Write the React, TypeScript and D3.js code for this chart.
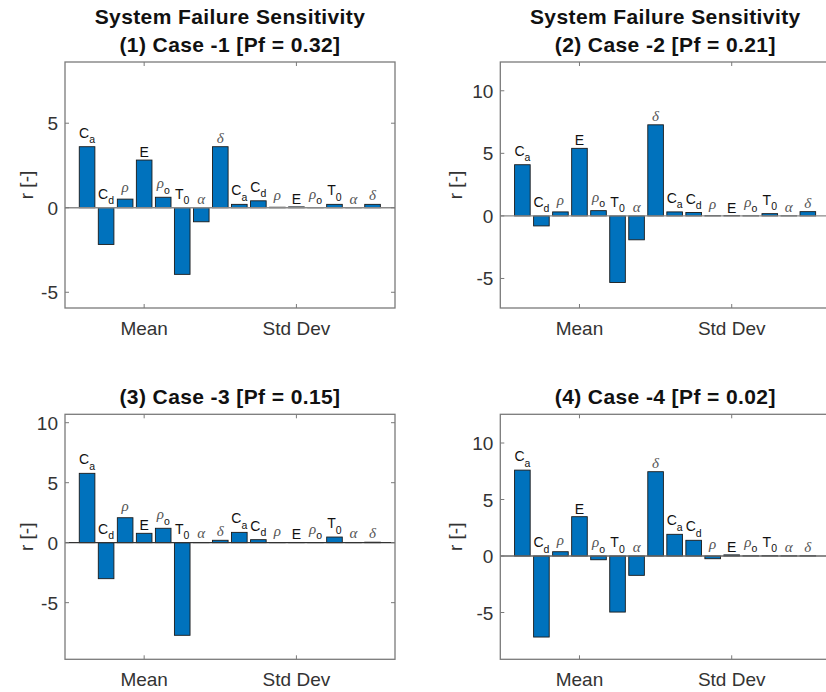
import React from 'react';
import * as d3 from 'd3';

// parameter labels (same order for the Mean group and the Std Dev group)
const paramBase = ['C', 'C', 'ρ', 'E', 'ρ', 'T', 'α', 'δ'];
const paramSub = ['a', 'd', '', '', 'o', '0', '', ''];
const paramGreek = [false, false, true, false, true, false, true, true];
const groupTicks = ['Mean', 'Std Dev'];

const case1Mean = [3.61, -2.17, 0.51, 2.82, 0.62, -3.94, -0.83, 3.61];
const case1Std = [0.2, 0.41, 0.03, 0.05, 0.01, 0.2, 0.01, 0.2];
const case2Mean = [4.09, -0.8, 0.32, 5.4, 0.42, -5.32, -1.91, 7.28];
const case2Std = [0.32, 0.27, 0.02, 0.03, 0.01, 0.18, 0.01, 0.34];
const case3Mean = [5.78, -3.0, 2.08, 0.78, 1.2, -7.72, 0.02, 0.2];
const case3Std = [0.86, 0.25, 0.01, 0.02, 0.01, 0.47, 0.02, 0.04];
const case4Mean = [7.6, -7.17, 0.38, 3.48, -0.33, -4.96, -1.71, 7.46];
const case4Std = [1.92, 1.39, -0.24, 0.1, 0.02, 0.03, 0.02, 0.02];

const titles = [
  ['System Failure Sensitivity', '(1) Case -1 [Pf = 0.32]'],
  ['System Failure Sensitivity', '(2) Case -2 [Pf = 0.21]'],
  ['(3) Case -3 [Pf = 0.15]'],
  ['(4) Case -4 [Pf = 0.02]'],
];
const yTicks = [[-5, 0, 5], [-5, 0, 5, 10], [-5, 0, 5, 10], [-5, 0, 5, 10]];
const yDomains: [number, number][] = [[-5.93, 8.62], [-7.36, 12.3], [-9.72, 10.7], [-9.14, 12.54]];

const panels = [
  { values: [...case1Mean, ...case1Std], left: 65, top: 62, bottom: 308, ylabOff: 38.5, zero: '#8a8a8a' },
  { values: [...case2Mean, ...case2Std], left: 500.3, top: 62, bottom: 308, ylabOff: 44.5, zero: '#8a8a8a' },
  { values: [...case3Mean, ...case3Std], left: 65, top: 414.3, bottom: 659.3, ylabOff: 38.5, zero: '#333' },
  { values: [...case4Mean, ...case4Std], left: 500.3, top: 414.3, bottom: 659.3, ylabOff: 44.5, zero: '#666' },
];

const W = 826;
const H = 692;
const PW = 330;
const font = 'Liberation Sans, Arial, Helvetica, sans-serif';
const axisColor = '#7a7a7a';
const textColor = '#333';

function Panel({ idx }: { idx: number }) {
  const p = panels[idx];
  const right = p.left + PW;
  const x = d3.scaleLinear().domain([-1.16, 16.18]).range([p.left, right]);
  const y = d3.scaleLinear().domain(yDomains[idx]).range([p.bottom, p.top]);
  const step = x(1) - x(0);
  const bw = step * 0.82;
  const tickLen = 4;
  const cx = (p.left + right) / 2;
  const t = titles[idx];

  return (
    <g>
      {t.map((line, i) => (
        <text key={i} x={cx} y={p.top - 10 - (t.length - 1 - i) * 27.7}
          textAnchor="middle" fontFamily={font} fontWeight="bold" fontSize={21}
          letterSpacing={0.4} fill="#111">{line}</text>
      ))}
      {/* bars */}
      {p.values.map((v, i) => (
        <rect key={i} x={x(i) - bw / 2} y={y(Math.max(v, 0))} width={bw}
          height={Math.abs(y(v) - y(0))} fill="#0072BD" stroke="#1a1a1a" strokeWidth={0.9} />
      ))}
      {/* zero baseline */}
      <line x1={p.left} x2={right} y1={y(0)} y2={y(0)} stroke={p.zero} strokeWidth={1.3} />
      {/* bar labels */}
      {p.values.map((v, i) => {
        const k = i % 8;
        const top = y(Math.max(v, 0));
        const greek = paramGreek[k];
        const sub = paramSub[k];
        let base = top - 3;
        if (sub) base = top - 9;
        else if (paramBase[k] === 'ρ') base = top - 7;
        else if (greek) base = top - 4;
        return (
          <text key={'l' + i} x={x(i)} y={base} textAnchor="middle" fontFamily={font} fontSize={14} fill="#111">
            <tspan fontFamily={greek ? 'Liberation Serif, DejaVu Serif, serif' : font}
              fontStyle={greek ? 'italic' : 'normal'} fill={greek ? '#555' : '#111'}
              fontSize={greek ? 15 : 14}>{paramBase[k]}</tspan>
            {sub && <tspan dy={5.5} fontSize={10.5}>{sub}</tspan>}
          </text>
        );
      })}
      {/* axes box */}
      <rect x={p.left} y={p.top} width={PW} height={p.bottom - p.top} fill="none" stroke={axisColor} strokeWidth={1.3} />
      {yTicks[idx].map((tv) => (
        <g key={tv}>
          <line x1={p.left} x2={p.left + tickLen} y1={y(tv)} y2={y(tv)} stroke={axisColor} strokeWidth={1} />
          <line x1={right} x2={right - tickLen} y1={y(tv)} y2={y(tv)} stroke={axisColor} strokeWidth={1} />
          <text x={p.left - 7} y={y(tv) + 7} textAnchor="end" fontFamily={font} fontSize={19} fill={textColor}>{tv}</text>
        </g>
      ))}
      {groupTicks.map((g, gi) => {
        const xp = x(3 + gi * 8);
        return (
          <g key={g}>
            <line x1={xp} x2={xp} y1={p.bottom} y2={p.bottom - tickLen} stroke={axisColor} strokeWidth={1} />
            <line x1={xp} x2={xp} y1={p.top} y2={p.top + tickLen} stroke={axisColor} strokeWidth={1} />
            <text x={xp} y={p.bottom + 27} textAnchor="middle" fontFamily={font} fontSize={19} fill={textColor}>{g}</text>
          </g>
        );
      })}
      <text transform={`translate(${p.left - p.ylabOff + 6},${(p.top + p.bottom) / 2}) rotate(-90)`}
        textAnchor="middle" fontFamily={font} fontSize={19} fill={textColor}>r [-]</text>
    </g>
  );
}

export default function App() {
  return (
    <div style={{ position: 'absolute', left: 0, top: 0, width: W, height: H, background: '#fff' }}>
      <svg width={W} height={H} style={{ display: 'block', background: '#fff' }}>
        {panels.map((_, i) => <Panel key={i} idx={i} />)}
      </svg>
    </div>
  );
}
